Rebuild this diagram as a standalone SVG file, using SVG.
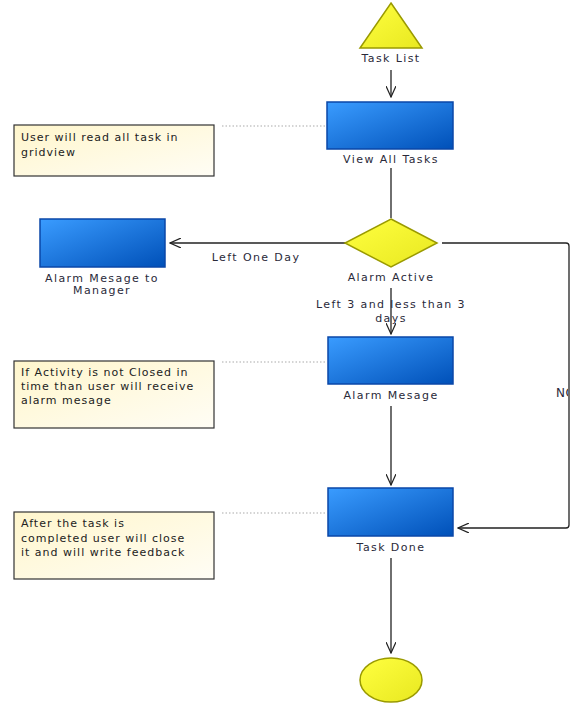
<svg xmlns="http://www.w3.org/2000/svg" width="579" height="705" viewBox="0 0 579 705">
<defs>
<linearGradient id="blue" x1="0" y1="0" x2="1" y2="1">
<stop offset="0" stop-color="#3a9cff"/>
<stop offset="1" stop-color="#0050b8"/>
</linearGradient>
<linearGradient id="yellow" x1="0" y1="0" x2="1" y2="1">
<stop offset="0" stop-color="#ffff40"/>
<stop offset="1" stop-color="#e8e820"/>
</linearGradient>
<linearGradient id="note" x1="0" y1="0" x2="1" y2="1">
<stop offset="0" stop-color="#fff6cc"/>
<stop offset="1" stop-color="#fffdf5"/>
</linearGradient>
<marker id="arr" viewBox="0 0 12 10" refX="11" refY="5" markerWidth="12" markerHeight="10" markerUnits="userSpaceOnUse" orient="auto">
<path d="M0,0 L11,5 L0,10" fill="none" stroke="#222" stroke-width="1.2"/>
</marker>
<clipPath id="noclip"><rect x="540" y="370" width="28" height="40"/></clipPath>
</defs>
<style>
.box{fill:url(#blue);stroke:#0a47a8;stroke-width:1.5}
.yel{fill:url(#yellow);stroke:#9a9a00;stroke-width:1.5}
.note{fill:url(#note);stroke:#333;stroke-width:1.2}
.lbl{font-family:"DejaVu Sans",Verdana,sans-serif;font-size:11px;fill:#2a2a3a;text-anchor:middle;letter-spacing:1.4px}
.ntxt{font-family:"DejaVu Sans",Verdana,sans-serif;font-size:11px;fill:#222;letter-spacing:1px}
.con{fill:none;stroke:#222;stroke-width:1.3}
.dot{fill:none;stroke:#aaa;stroke-width:1.2;stroke-dasharray:1.5,2}
</style>
<g id="connectors">
<line class="con" x1="391" y1="70" x2="391" y2="97" marker-end="url(#arr)"/>
<line class="con" x1="391" y1="168" x2="391" y2="218"/>
<line class="con" x1="345" y1="243" x2="170" y2="243" marker-end="url(#arr)"/>
<line class="con" x1="391" y1="288" x2="391" y2="334" marker-end="url(#arr)"/>
<line class="con" x1="391" y1="406" x2="391" y2="485" marker-end="url(#arr)"/>
<line class="con" x1="391" y1="558" x2="391" y2="653" marker-end="url(#arr)"/>
<path class="con" d="M442,243 L566,243 Q569,243 569,246 L569,525 Q569,528 566,528 L458,528" marker-end="url(#arr)"/>
<line class="dot" x1="222" y1="126" x2="325" y2="126"/>
<line class="dot" x1="222" y1="362" x2="325" y2="362"/>
<line class="dot" x1="222" y1="513" x2="325" y2="513"/>
<text class="lbl" x="256" y="261">Left One Day</text>
<text class="lbl" x="391" y="308">Left 3 and less than 3</text>
<text class="lbl" x="391" y="322">days</text>
<text class="lbl" x="556" y="397" style="text-anchor:start;letter-spacing:0.5px;font-size:12px" clip-path="url(#noclip)">NO</text>
</g>
<g id="task-list">
<polygon class="yel" points="391,3 422,48 360,48"/>
<text class="lbl" x="391" y="62">Task List</text>
</g>
<g id="view-all-tasks">
<rect class="box" x="327" y="102" width="126" height="47"/>
<text class="lbl" x="391" y="163">View All Tasks</text>
</g>
<g id="note-view">
<rect class="note" x="14" y="125" width="200" height="51"/>
<text class="ntxt" x="21" y="141">User will read all task in</text>
<text class="ntxt" x="21" y="156">gridview</text>
</g>
<g id="alarm-active">
<polygon class="yel" points="391,219 437,243 391,267 345,243"/>
<text class="lbl" x="391" y="281">Alarm Active</text>
</g>
<g id="alarm-manager">
<rect class="box" x="40" y="219" width="125" height="48"/>
<text class="lbl" x="102" y="282">Alarm Mesage to</text>
<text class="lbl" x="102" y="294">Manager</text>
</g>
<g id="alarm-mesage">
<rect class="box" x="328" y="337" width="125" height="47"/>
<text class="lbl" x="391" y="399">Alarm Mesage</text>
</g>
<g id="note-alarm">
<rect class="note" x="14" y="361" width="200" height="67"/>
<text class="ntxt" x="21" y="376">If Activity is not Closed  in</text>
<text class="ntxt" x="21" y="390">time than user will receive</text>
<text class="ntxt" x="21" y="404">alarm mesage</text>
</g>
<g id="task-done">
<rect class="box" x="328" y="488" width="125" height="48"/>
<text class="lbl" x="391" y="551">Task Done</text>
</g>
<g id="note-done">
<rect class="note" x="14" y="512" width="200" height="67"/>
<text class="ntxt" x="21" y="527">After the task is</text>
<text class="ntxt" x="21" y="542">completed user will close</text>
<text class="ntxt" x="21" y="556">it and will write feedback</text>
</g>
<g id="end">
<ellipse class="yel" cx="391" cy="680" rx="31" ry="22"/>
</g>
</svg>
